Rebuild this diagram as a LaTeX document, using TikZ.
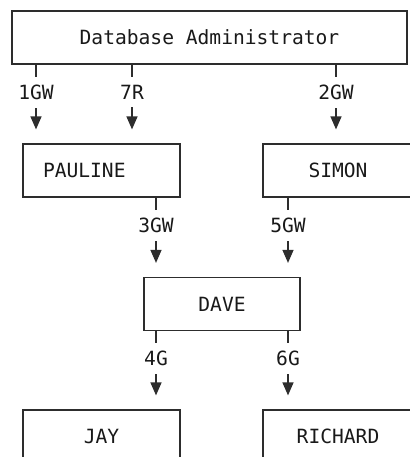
\documentclass[tikz,border=0pt]{standalone}
\usepackage{fontspec}
\setmonofont{DejaVu Sans Mono}
\usepackage{tikz}
\usetikzlibrary{arrows.meta,positioning,calc}
\definecolor{boxline}{RGB}{45,45,45}
\definecolor{inktext}{RGB}{25,25,25}
\tikzset{
    userbox/.style={
        draw=boxline,
        line width=1.2pt,
        minimum height=53pt,
        inner sep=0pt,
        text=inktext,
        font=\ttfamily\fontsize{19.6}{22}\selectfont
    },
    grant/.style={
        draw=boxline,
        line width=1.3pt,
        -{Triangle[length=13pt,width=11pt]},
        shorten >=14pt
    },
    privtag/.style={
        fill=white,
        inner xsep=2pt,
        inner ysep=8pt,
        pos=0.35,
        text=inktext,
        font=\ttfamily\fontsize{19.6}{22}\selectfont
    }
}

\begin{document}
\begin{tikzpicture}[x=1pt,y=-1pt]
    \useasboundingbox (0,0) rectangle (409,457);

    % users
    \node[userbox, minimum width=395pt] (admin) at (209.5,37.5) {Database Administrator};
    \node[userbox, minimum width=157pt, text width=117pt, align=left] (pauline) at (101.5,170.5) {PAULINE};
    \node[userbox, minimum width=150pt] (simon) at (338,170.5) {SIMON};
    \node[userbox, minimum width=156pt] (dave) at (222,304) {DAVE};
    \node[userbox, minimum width=157pt, text width=147pt, align=center] (jay) at (101.5,436.5) {JAY};
    \node[userbox, minimum width=150pt] (richard) at (338,436.5) {RICHARD};

    % grants
    \draw[grant] (admin.south -| 36,0) -- node[privtag] {1GW} (pauline.north -| 36,0);
    \draw[grant] (admin.south -| 132,0) -- node[privtag] {7R} (pauline.north -| 132,0);
    \draw[grant] (admin.south -| 336,0) -- node[privtag] {2GW} (simon.north -| 336,0);
    \draw[grant] (pauline.south -| 156,0) -- node[privtag] {3GW} (dave.north -| 156,0);
    \draw[grant] (simon.south -| 288,0) -- node[privtag] {5GW} (dave.north -| 288,0);
    \draw[grant] (dave.south -| 156,0) -- node[privtag] {4G} (jay.north -| 156,0);
    \draw[grant] (dave.south -| 288,0) -- node[privtag] {6G} (richard.north -| 288,0);
\end{tikzpicture}
\end{document}
